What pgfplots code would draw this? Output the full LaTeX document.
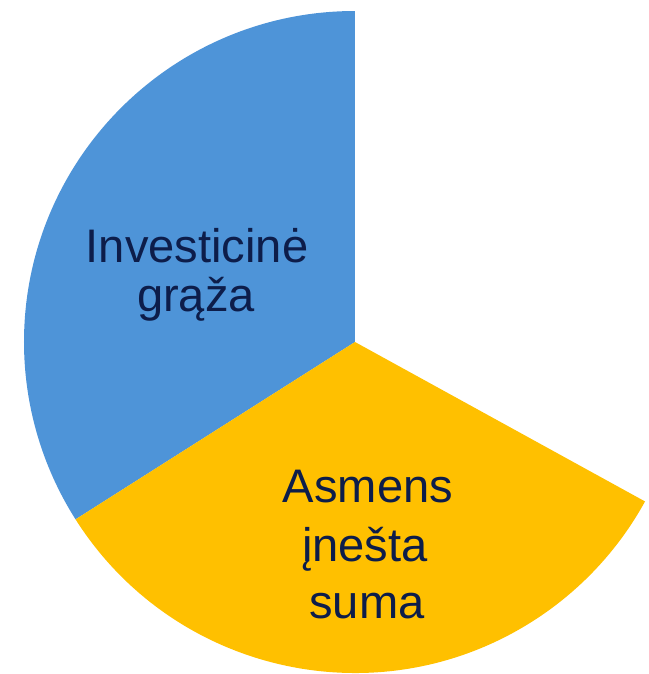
\documentclass[border=0pt]{standalone}
\usepackage{pgfplots}
\usepackage{pgfplotstable}
\pgfplotsset{compat=1.18}
\usepackage{fontspec}
\setmainfont{Liberation Sans}
\definecolor{sliceblue}{HTML}{4E94D8}
\definecolor{sliceyellow}{HTML}{FFC000}
\definecolor{labelnavy}{HTML}{0D1D4A}
\pgfplotstableread{
share
34
33
}\pietable
\pgfplotstablegetelem{0}{share}\of\pietable
\edef\shareA{\pgfplotsretval}
\pgfplotstablegetelem{1}{share}\of\pietable
\edef\shareB{\pgfplotsretval}
\begin{document}
\begin{tikzpicture}
\begin{axis}[
  width=6.49cm, height=6.74cm, scale only axis,
  xmin=0, xmax=649, ymin=0, ymax=674,
  hide axis, clip=false,
]
\coordinate (bl) at (axis cs:0,0);
\coordinate (tr) at (axis cs:649,674);
\pgfmathsetmacro{\aS}{90}
\pgfmathsetmacro{\aA}{90+3.6*\shareA}
\pgfmathsetmacro{\aB}{\aA+3.6*\shareB}
\fill[sliceblue] (axis cs:355,332) -- (axis cs:{355+331*cos(\aS)},{332+331*sin(\aS)}) arc[start angle=\aS, end angle=\aA, radius=331] -- cycle;
\fill[sliceyellow] (axis cs:355,332) -- (axis cs:{355+331*cos(\aA)},{332+331*sin(\aA)}) arc[start angle=\aA, end angle=\aB, radius=331] -- cycle;
\begin{scope}[every node/.style={anchor=base, text=labelnavy, inner sep=0pt, font=\fontsize{13.4}{16}\selectfont}]
\node at (axis cs:197,412) {Investicinė};
\node at (axis cs:196,363) {grąža};
\node at (axis cs:368,172) {Asmens};
\node at (axis cs:365,113) {įnešta};
\node at (axis cs:367,56) {suma};
\end{scope}
\end{axis}
\pgfresetboundingbox
\path[use as bounding box] (bl) rectangle (tr);
\end{tikzpicture}
\end{document}
